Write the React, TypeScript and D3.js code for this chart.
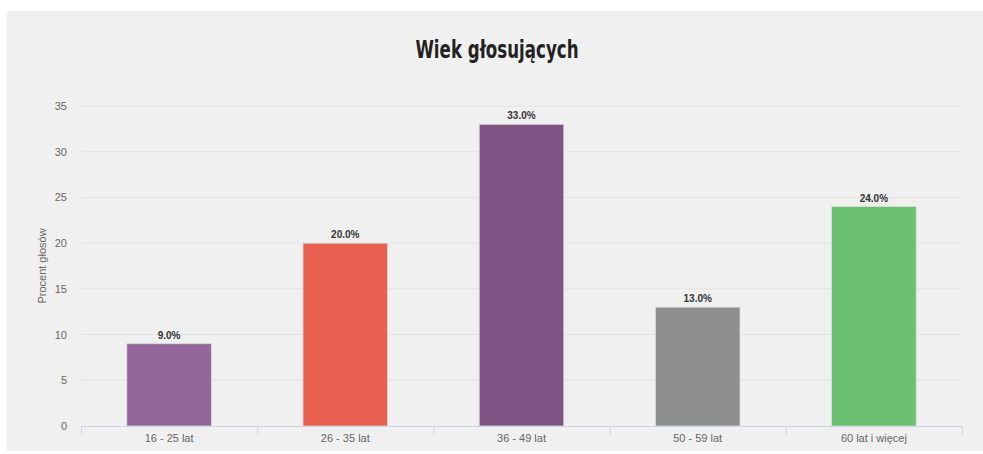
import React from "react";
import * as d3 from "d3";

const categories = ["16 - 25 lat", "26 - 35 lat", "36 - 49 lat", "50 - 59 lat", "60 lat i więcej"];
const values = [9, 20, 33, 13, 24];
const colors = ["#93679a", "#e8604f", "#7f5384", "#8c8f8e", "#6bbf70"];
const yTicks = [0, 5, 10, 15, 20, 25, 30, 35];
const title = "Wiek głosujących";
const yTitle = "Procent głosów";

const W = 983;
const H = 454;
const left = 81;
const right = 962;
const top = 106;
const bottom = 426;

export default function App() {
  const x = d3.scaleBand<string>().domain(categories).range([left, right]).paddingInner(0).paddingOuter(0);
  const y = d3.scaleLinear().domain([0, 35]).range([bottom, top]);
  const bw = x.bandwidth();
  const barW = bw * 0.48;
  const font = "'Liberation Sans', Arial, sans-serif";
  const boundaries = categories.map((c) => x(c) as number).concat([right]);

  return (
    <svg width={W} height={H} style={{ position: "absolute", left: 0, top: 0 }} fontFamily={font}>
      <rect x={0} y={0} width={W} height={H} fill="#ffffff" />
      <rect x={7} y={11} width={W - 7} height={440} fill="#f0f0f0" />
      <text
        x={497}
        y={58}
        textAnchor="middle"
        fontFamily="'DejaVu Sans', sans-serif"
        fontWeight="bold"
        fontSize={25}
        fill="#222"
        textLength={163}
        lengthAdjust="spacingAndGlyphs"
      >
        {title}
      </text>
      {yTicks.map((t) => (
        <g key={t}>
          {t > 0 && (
            <line x1={left} x2={right} y1={y(t)} y2={y(t)} stroke="#e2e2e2" strokeWidth={1} />
          )}
          <text x={67} y={y(t) + 4} textAnchor="end" fontSize={11} fill="#666">
            {t}
          </text>
        </g>
      ))}
      <text
        transform={`translate(46,${(top + bottom) / 2}) rotate(-90)`}
        textAnchor="middle"
        fontSize={11}
        fill="#666"
      >
        {yTitle}
      </text>
      {categories.map((c, i) => {
        const cx = (x(c) as number) + bw / 2;
        const v = values[i];
        return (
          <g key={c}>
            <rect
              x={cx - barW / 2}
              y={y(v)}
              width={barW}
              height={bottom - y(v)}
              fill={colors[i]}
              stroke="#dcdcdc"
              strokeWidth={0.8}
            />
            <text x={cx} y={y(v) - 5} textAnchor="middle" fontSize={10} fontWeight="bold" fill="#333">
              {v.toFixed(1) + "%"}
            </text>
            <text x={cx} y={442} textAnchor="middle" fontSize={11} fill="#666">
              {c}
            </text>
          </g>
        );
      })}
      <line x1={left} x2={right} y1={bottom + 0.5} y2={bottom + 0.5} stroke="#ccd6eb" strokeWidth={1} />
      {boundaries.map((b, i) => (
        <line key={i} x1={b + 0.5} x2={b + 0.5} y1={bottom} y2={bottom + 9} stroke="#ccd6eb" strokeWidth={1} />
      ))}
    </svg>
  );
}
